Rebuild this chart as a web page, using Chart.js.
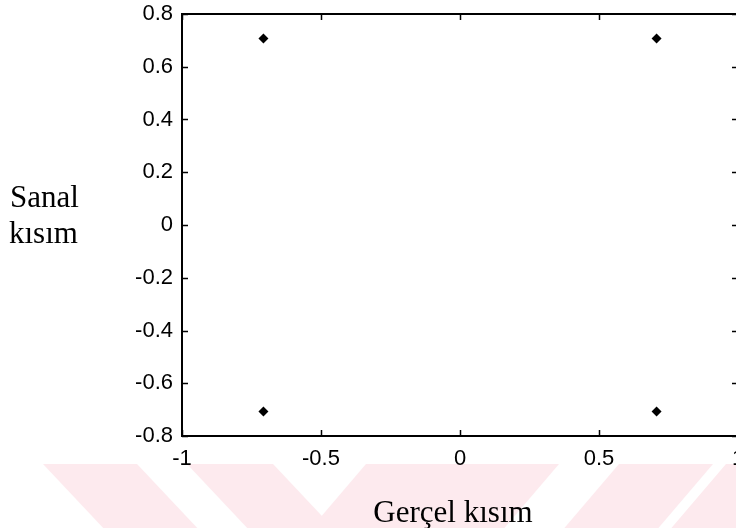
<!DOCTYPE html>
<html>
<head>
<meta charset="utf-8">
<script src="https://cdn.jsdelivr.net/npm/chart.js@4.4.1/dist/chart.umd.min.js"></script>
<style>
  html, body { margin: 0; padding: 0; background: #fff; overflow: hidden; width: 736px; height: 528px; }
  #wrap { position: absolute; left: 0; top: 0; width: 760px; height: 528px; }
</style>
</head>
<body>
<div id="wrap"><canvas id="c" width="760" height="528"></canvas></div>
<script>
// QPSK constellation symbols (real / imaginary parts)
const symbolNames = ['s1', 's2', 's3', 's4'];
const realPart = [-0.707, 0.707, -0.707, 0.707];
const imagPart = [0.707, 0.707, -0.707, -0.707];

// Axis ticks
const xTickValues = [-1, -0.5, 0, 0.5, 1];
const xTickLabels = ['-1', '-0.5', '0', '0.5', '1'];
const yTickValues = [-0.8, -0.6, -0.4, -0.2, 0, 0.2, 0.4, 0.6, 0.8];
const yTickLabels = ['-0.8', '-0.6', '-0.4', '-0.2', '0', '0.2', '0.4', '0.6', '0.8'];

// Axis titles
const xTitle = 'Gerçel kısım';
const yTitleLines = ['Sanal', 'kısım'];

// Light diagonal band pattern behind the lower margin
const bandColor = '#fdeaee';
const bands = [
  [[43, 464], [137, 464], [201, 532], [107, 532]],
  [[187, 464], [273, 464], [337, 532], [251, 532]],
  [[366, 464], [559, 464], [501, 532], [308, 532]],
  [[619, 464], [713, 464], [655, 532], [561, 532]],
  [[726, 464], [800, 464], [742, 532], [668, 532]]
];

const points = realPart.map((x, i) => ({ x: x, y: imagPart[i], name: symbolNames[i] }));

const backdrop = {
  id: 'backdrop',
  beforeDraw(chart) {
    const ctx = chart.ctx;
    ctx.save();
    ctx.fillStyle = '#ffffff';
    ctx.fillRect(0, 0, chart.width, chart.height);
    ctx.fillStyle = bandColor;
    bands.forEach(poly => {
      ctx.beginPath();
      poly.forEach((p, i) => i ? ctx.lineTo(p[0], p[1]) : ctx.moveTo(p[0], p[1]));
      ctx.closePath();
      ctx.fill();
    });
    ctx.restore();
  }
};

// Boxed axes with inward tick marks, plus the axis titles
const frame = {
  id: 'frame',
  afterDraw(chart) {
    const ctx = chart.ctx;
    const a = chart.chartArea;
    const xs = chart.scales.x, ys = chart.scales.y;
    const tl = 6;
    ctx.save();
    ctx.strokeStyle = '#000';
    ctx.lineWidth = 2;
    ctx.strokeRect(a.left, a.top, a.right - a.left, a.bottom - a.top);
    ctx.lineWidth = 1.5;
    ctx.beginPath();
    xTickValues.forEach(v => {
      const px = Math.round(xs.getPixelForValue(v)) + 0.5;
      ctx.moveTo(px, a.bottom); ctx.lineTo(px, a.bottom - tl);
      ctx.moveTo(px, a.top); ctx.lineTo(px, a.top + tl);
    });
    yTickValues.forEach(v => {
      const py = Math.round(ys.getPixelForValue(v)) + 0.5;
      ctx.moveTo(a.left, py); ctx.lineTo(a.left + tl, py);
      ctx.moveTo(a.right, py); ctx.lineTo(a.right - tl, py);
    });
    ctx.stroke();

    ctx.fillStyle = '#000';
    ctx.font = '31px "Liberation Serif", "Times New Roman", serif';
    ctx.textBaseline = 'alphabetic';
    ctx.textAlign = 'center';
    ctx.fillText(xTitle, 453, 522);
    ctx.textAlign = 'left';
    ctx.fillText(yTitleLines[0], 10, 207);
    ctx.fillText(yTitleLines[1], 9, 243);
    ctx.restore();
  }
};

const tickFont = { family: '"Liberation Sans", Arial, sans-serif', size: 22 };

new Chart(document.getElementById('c'), {
  type: 'scatter',
  data: {
    datasets: [{
      label: 'QPSK',
      data: points,
      pointStyle: 'rectRot',
      pointRadius: 5,
      pointHoverRadius: 5,
      backgroundColor: '#000',
      borderColor: '#000',
      borderWidth: 0
    }]
  },
  options: {
    responsive: false,
    devicePixelRatio: 1,
    animation: false,
    events: [],
    layout: { padding: { top: 14, right: 22, left: 0, bottom: 0 } },
    plugins: { legend: { display: false }, tooltip: { enabled: false } },
    scales: {
      x: {
        type: 'linear',
        min: -1,
        max: 1,
        afterBuildTicks: s => { s.ticks = xTickValues.map(v => ({ value: v })); },
        afterFit: s => { s.height = 92; s.paddingLeft = 0; s.paddingRight = 0; },
        grid: { display: false, drawTicks: false },
        border: { display: false },
        ticks: {
          color: '#000',
          font: tickFont,
          padding: 10,
          maxRotation: 0,
          autoSkip: false,
          callback: (v) => xTickLabels[xTickValues.indexOf(v)]
        }
      },
      y: {
        type: 'linear',
        min: -0.8,
        max: 0.8,
        afterBuildTicks: s => { s.ticks = yTickValues.map(v => ({ value: v })); },
        afterFit: s => { s.width = 182; s.paddingTop = 0; s.paddingBottom = 0; },
        grid: { display: false, drawTicks: false },
        border: { display: false },
        ticks: {
          color: '#000',
          font: tickFont,
          padding: 9,
          autoSkip: false,
          callback: (v) => yTickLabels[yTickValues.findIndex(t => Math.abs(t - v) < 1e-9)]
        }
      }
    }
  },
  plugins: [backdrop, frame]
});
</script>
</body>
</html>
